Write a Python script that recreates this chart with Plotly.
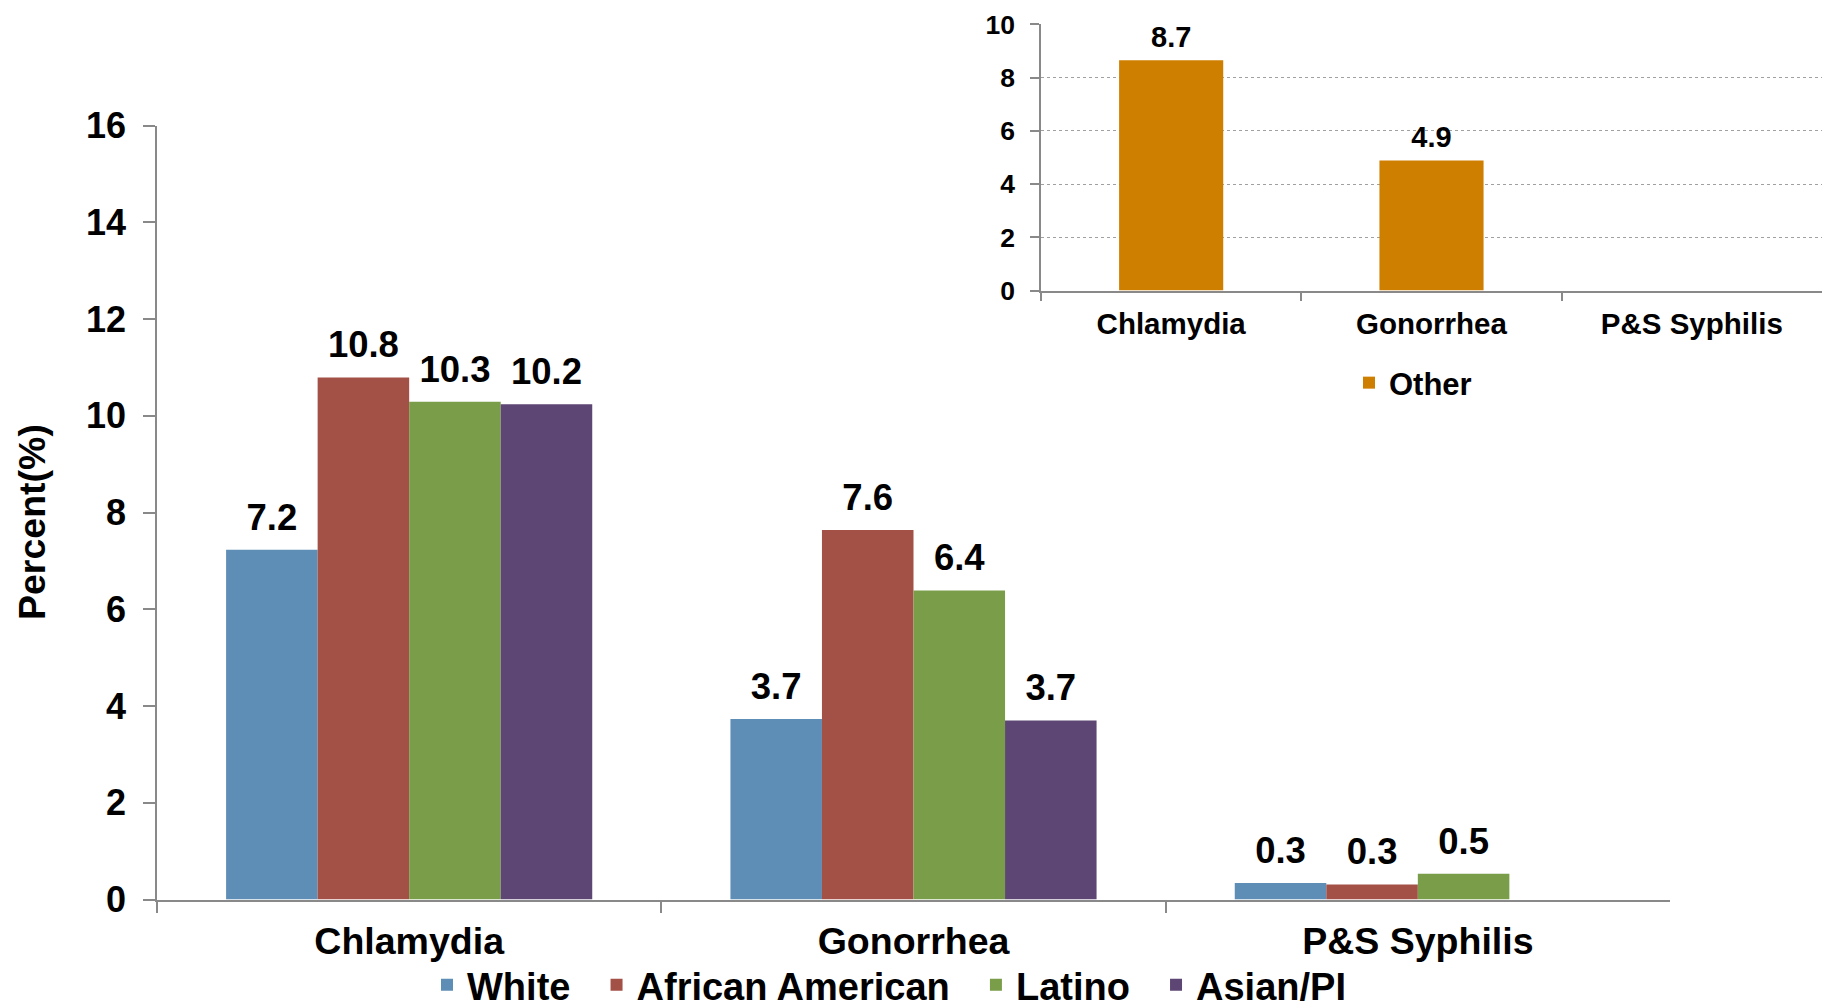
import plotly.graph_objects as go

# ---- data ----
diseases = ["Chlamydia", "Gonorrhea", "P&S Syphilis"]
white = [7.23, 3.73, 0.34]
african_american = [10.79, 7.64, 0.31]
latino = [10.29, 6.39, 0.53]
asian_pi = [10.24, 3.70, None]
other = [8.65, 4.89, None]

series_names = ["White", "African American", "Latino", "Asian/PI"]
series_colors = ["#5E8EB6", "#A35147", "#7A9D49", "#5E4674"]
other_color = "#CF7F00"

FONT = "Liberation Sans, Arial, sans-serif"
W, H = 1822, 1008
PAD = "\u00a0\u00a0"

def px_x(p):
    return p / W

def px_y(p):
    return (H - p) / H

def labels(vals):
    return [None if v is None else f"{v:.1f}" for v in vals]

fig = go.Figure()

main_series = [white, african_american, latino, asian_pi]
for name, vals, col in zip(series_names, main_series, series_colors):
    fig.add_trace(go.Bar(
        x=diseases, y=vals, name=name + PAD, marker=dict(color=col, line=dict(width=0)),
        xaxis="x", yaxis="y", legend="legend",
    ))
# value labels, grouped like the bars
for name, vals in zip(series_names, main_series):
    fig.add_trace(go.Scatter(
        x=diseases, y=vals, mode="markers+text", text=labels(vals),
        textposition="top center", cliponaxis=False, showlegend=False, hoverinfo="skip",
        marker=dict(size=16, color="rgba(0,0,0,0)"),
        textfont=dict(family=FONT, size=36.5, color="black", weight="bold"),
        xaxis="x", yaxis="y",
    ))

fig.add_trace(go.Bar(
    x=diseases, y=other, name="Other", marker=dict(color=other_color, line=dict(width=0)),
    width=0.4, xaxis="x2", yaxis="y2", legend="legend2",
))
fig.add_trace(go.Scatter(
    x=diseases, y=other, mode="markers+text", text=labels(other),
    textposition="top center", cliponaxis=False, showlegend=False, hoverinfo="skip",
    marker=dict(size=8, color="rgba(0,0,0,0)"),
    textfont=dict(family=FONT, size=29, color="black", weight="bold"),
    xaxis="x2", yaxis="y2",
))

axis_col = "#898989"

fig.update_layout(
    width=W, height=H,
    margin=dict(l=0, r=0, t=0, b=0, autoexpand=False),
    paper_bgcolor="white", plot_bgcolor="rgba(0,0,0,0)",
    barmode="group", bargap=0.274, bargroupgap=0,
    scattermode="group", scattergap=0.274,
    font=dict(family=FONT, size=36, color="black", weight="bold"),
    xaxis=dict(
        domain=[px_x(157), px_x(1670)], anchor="y", automargin=False,
        showline=True, linecolor=axis_col, linewidth=1.5,
        ticks="outside", tickson="boundaries", ticklen=12, tickcolor=axis_col, tickwidth=1.5,
        tickfont=dict(family=FONT, size=37.5, color="black", weight="bold"),
        ticklabelstandoff=8,
        showgrid=False, zeroline=False,
    ),
    yaxis=dict(
        domain=[px_y(899.5), px_y(125.5)], anchor="x", automargin=False,
        range=[0, 16], dtick=2, tick0=0,
        showline=True, linecolor=axis_col, linewidth=1.5,
        ticks="outside", ticklen=12, tickcolor=axis_col, tickwidth=1.5,
        tickfont=dict(family=FONT, size=36, color="black", weight="bold"),
        ticklabelstandoff=10,
        showgrid=False, zeroline=False,
    ),
    xaxis2=dict(
        domain=[px_x(1041), 1.0], anchor="y2", automargin=False,
        showline=True, linecolor=axis_col, linewidth=1.5,
        ticks="outside", tickson="boundaries", ticklen=9, tickcolor=axis_col, tickwidth=1.5,
        tickfont=dict(family=FONT, size=29.5, color="black", weight="bold"),
        ticklabelstandoff=6,
        showgrid=False, zeroline=False,
    ),
    yaxis2=dict(
        domain=[px_y(290.5), px_y(24.4)], anchor="x2", automargin=False,
        range=[0, 10], dtick=2, tick0=0,
        showline=True, linecolor=axis_col, linewidth=1.5,
        ticks="outside", ticklen=9, tickcolor=axis_col, tickwidth=1.5,
        tickfont=dict(family=FONT, size=26.5, color="black", weight="bold"),
        ticklabelstandoff=10,
        showgrid=True, gridcolor="#A0A0A0", griddash="dot", gridwidth=1.2,
        zeroline=False,
    ),
    legend=dict(
        orientation="h", x=px_x(427), xanchor="left", y=px_y(985), yanchor="middle",
        font=dict(family=FONT, size=38, color="black", weight="bold"),
        bgcolor="rgba(0,0,0,0)", itemclick=False,
    ),
    legend2=dict(
        orientation="h", x=px_x(1349), xanchor="left", y=px_y(383), yanchor="middle",
        font=dict(family=FONT, size=31, color="black", weight="bold"),
        bgcolor="rgba(0,0,0,0)",
    ),
    annotations=[dict(
        text="Percent(%)", textangle=-90, xref="paper", yref="paper",
        x=px_x(32), y=px_y(522), xanchor="center", yanchor="middle", showarrow=False,
        font=dict(family=FONT, size=37.5, color="black", weight="bold"),
    )],
)

fig.write_html("out.html", config={"displayModeBar": False},
               post_script="document.body.style.margin='0';")
